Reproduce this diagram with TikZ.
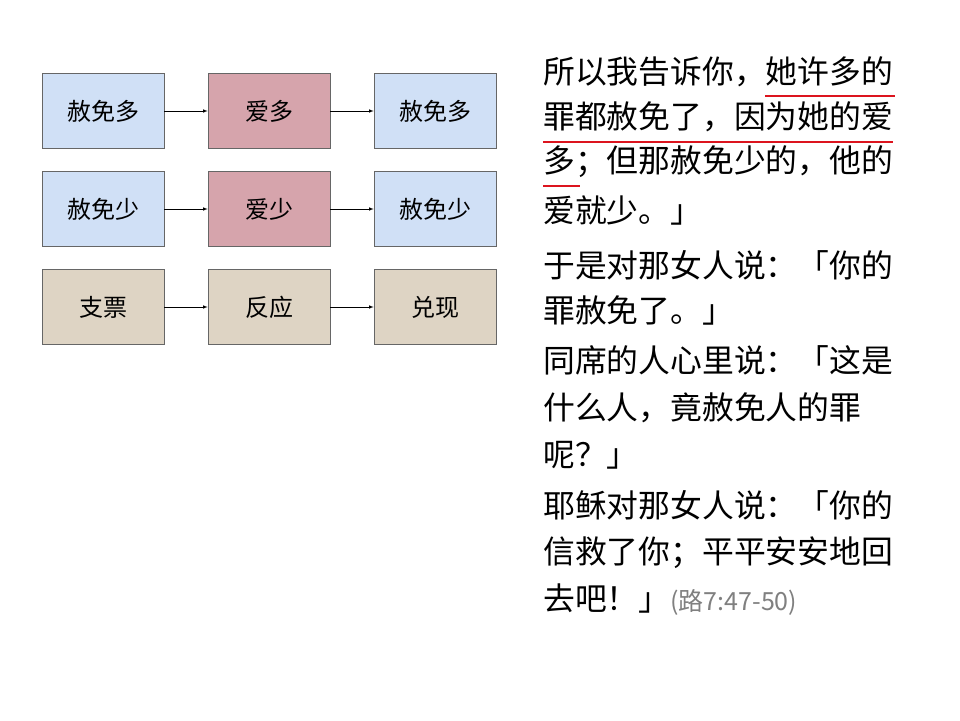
\documentclass[tikz,border=0pt]{standalone}
\usepackage{fontspec}
\newfontfamily\cjk{Noto Sans CJK SC}
\begin{document}
\begin{tikzpicture}[x=1pt,y=-1pt,
 box/.style={draw=gray!80!black,line width=0.6pt,minimum width=122pt,minimum height=75pt,inner sep=0pt,font=\cjk\fontsize{24}{28}\selectfont},
 bl/.style={box,fill={rgb,255:red,208;green,224;blue,246}},
 rd/.style={box,fill={rgb,255:red,214;green,164;blue,172}},
 tn/.style={box,fill={rgb,255:red,222;green,212;blue,196}},
 arr/.style={-latex,line width=0.6pt},
 ln/.style={anchor=west,inner sep=0pt,font=\cjk\fontsize{31.8}{34}\selectfont},
 ul/.style={draw={rgb,255:red,220;green,20;blue,30},line width=2.5pt}]
\useasboundingbox (0,0) rectangle (960,720);
\fill[white] (0,0) rectangle (960,720);
\node[bl] (a1) at (103,111) {赦免多};
\node[rd] (a2) at (269,111) {爱多};
\node[bl] (a3) at (435,111) {赦免多};
\node[bl] (b1) at (103,209) {赦免少};
\node[rd] (b2) at (269,209) {爱少};
\node[bl] (b3) at (435,209) {赦免少};
\node[tn] (c1) at (103,307) {支票};
\node[tn] (c2) at (269,307) {反应};
\node[tn] (c3) at (435,307) {兑现};
\foreach \r in {a,b,c}{\draw[arr] (\r1) -- (\r2); \draw[arr] (\r2) -- (\r3);}
\node[ln] (t1) at (543,72) {所以我告诉你，她许多的};
\node[ln] (t2) at (543,117) {罪都赦免了，因为她的爱};
\node[ln] (t3) at (543,162) {多；但那赦免少的，他的};
\node[ln] (t4) at (543,210) {爱就少。」};
\node[ln] (t5) at (543,265) {于是对那女人说：「你的};
\node[ln] (t6) at (543,310) {罪赦免了。」};
\node[ln] (t7) at (543,360) {同席的人心里说：「这是};
\node[ln] (t8) at (543,408) {什么人，竟赦免人的罪};
\node[ln] (t9) at (543,455) {呢？」};
\node[ln] (t10) at (543,505) {耶稣对那女人说：「你的};
\node[ln] (t11) at (543,553) {信救了你；平平安安地回};
\node[ln] (t12) at (543,600) {去吧！」\textcolor{gray}{\fontsize{25}{28}\selectfont (路7:47-50)}};
\draw[ul] (765,96) -- (895,96);
\draw[ul] (543,142) -- (893,142);
\draw[ul] (543,186) -- (580,186);
\end{tikzpicture}
\end{document}
